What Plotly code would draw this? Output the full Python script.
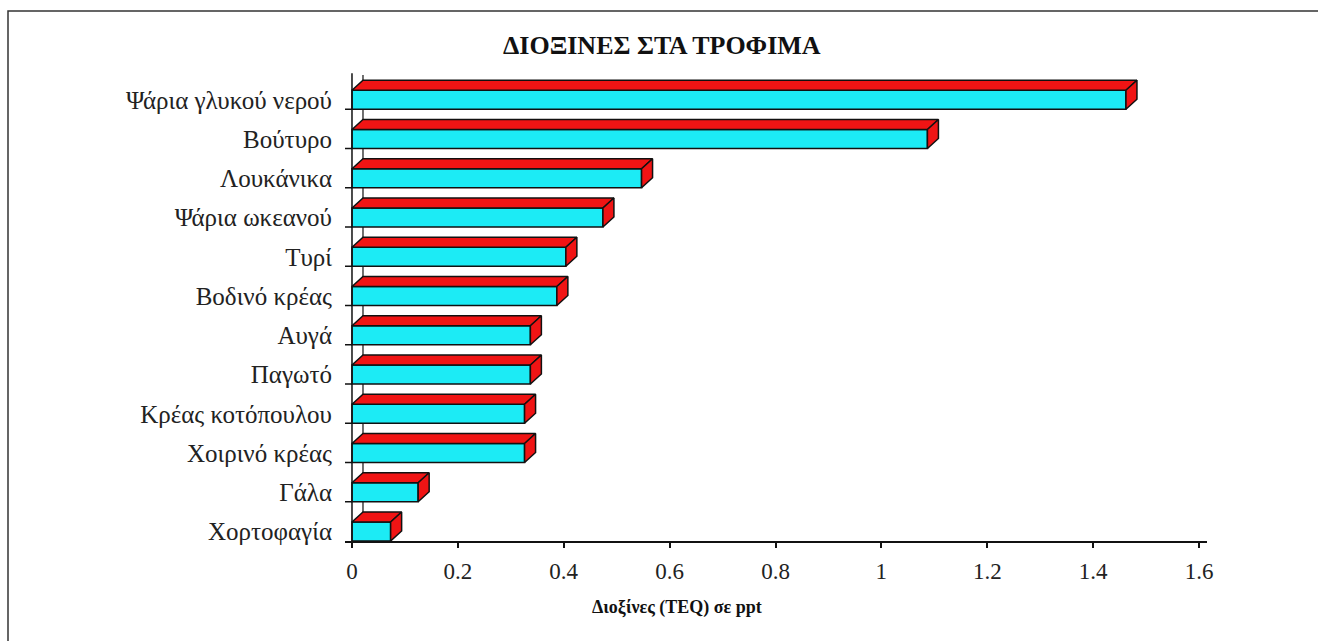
import plotly.graph_objects as go

# ---- data (bottom to top) ----
categories = ["Χορτοφαγία", "Γάλα", "Χοιρινό κρέας", "Κρέας κοτόπουλου", "Παγωτό",
              "Αυγά", "Βοδινό κρέας", "Τυρί", "Ψάρια ωκεανού", "Λουκάνικα",
              "Βούτυρο", "Ψάρια γλυκού νερού"]
values = [0.073, 0.125, 0.326, 0.326, 0.337, 0.337, 0.387, 0.404, 0.474, 0.547, 1.087, 1.462]
x_ticks = [0, 0.2, 0.4, 0.6, 0.8, 1.0, 1.2, 1.4, 1.6]
x_ticktext = ["0", "0.2", "0.4", "0.6", "0.8", "1", "1.2", "1.4", "1.6"]

title_text = "ΔΙΟΞΙΝΕΣ ΣΤΑ ΤΡΟΦΙΜΑ"
xaxis_title = "Διοξίνες (TEQ) σε ppt"

# ---- geometry/style ----
W, H = 1318, 641
ML, MR, MT, MB = 345, 111, 70, 100
PW, PH = W - ML - MR, H - MT - MB
XMIN, XMAX = -0.0132, 1.6151
px_per_x = PW / (XMAX - XMIN)
n = len(categories)
px_per_slot = PH / n
DX = 11 / px_per_x      # depth offset in x units
DY = 10 / px_per_slot   # depth offset in slot units
BH = 19 / px_per_slot   # front face height

FRONT = "#1CEBF5"
RED = "#F01414"
EDGE = "#111111"
FONT = "Liberation Serif, Times New Roman, DejaVu Serif, serif"

fig = go.Figure()

# front faces
fig.add_trace(go.Bar(
    x=values, y=[i + BH / 2 for i in range(n)], orientation="h", width=BH,
    marker=dict(color=FRONT, line=dict(color=EDGE, width=1.5)),
    hoverinfo="skip", showlegend=False))

# top faces and side faces
tx, ty, sx, sy = [], [], [], []
for i, v in enumerate(values):
    yt = i + BH
    tx += [0, DX, v + DX, v, 0, None]
    ty += [yt, yt + DY, yt + DY, yt, yt, None]
    sx += [v, v, v + DX, v + DX, v, None]
    sy += [i, yt, yt + DY, i + DY, i, None]

fig.add_trace(go.Scatter(x=tx, y=ty, mode="lines", fill="toself", fillcolor=RED,
                         line=dict(color=EDGE, width=1.5), hoverinfo="skip", showlegend=False))
fig.add_trace(go.Scatter(x=sx, y=sy, mode="lines", fill="toself", fillcolor=RED,
                         line=dict(color=EDGE, width=1.5), hoverinfo="skip", showlegend=False))

shapes = []
# back wall edge (below bars)
shapes.append(dict(type="line", xref="x", yref="y", x0=DX, x1=DX, y0=DY, y1=n - 0.13,
                   line=dict(color=EDGE, width=1.2), layer="below"))
# vertical axis line
shapes.append(dict(type="line", xref="x", yref="y", x0=0, x1=0, y0=0, y1=n - 0.08,
                   line=dict(color=EDGE, width=1.5)))
# category boundary ticks
for i in range(1, n):
    shapes.append(dict(type="line", xref="x", yref="y", x0=XMIN, x1=0, y0=i, y1=i,
                       line=dict(color=EDGE, width=1.5)))
# outer frame
shapes.append(dict(type="rect", xref="paper", yref="paper",
                   x0=(8 - ML) / PW, x1=(W + 5 - ML) / PW,
                   y0=(H - MB - (H + 5)) / PH, y1=(H - MB - 11) / PH,
                   line=dict(color="#333333", width=1.5)))

fig.update_layout(
    width=W, height=H,
    margin=dict(l=ML, r=MR, t=MT, b=MB),
    paper_bgcolor="white", plot_bgcolor="white",
    barmode="overlay",
    shapes=shapes,
    xaxis=dict(range=[XMIN, XMAX], tickvals=x_ticks, ticktext=x_ticktext,
               showgrid=False, zeroline=False, showline=True, linecolor=EDGE, linewidth=1.5,
               ticks="outside", ticklen=5, tickcolor=EDGE, tickwidth=1.5,
               ticklabelstandoff=4,
               tickfont=dict(family=FONT, size=23, color="#222222"), fixedrange=True),
    yaxis=dict(range=[0, n], tickvals=[i + BH / 2 for i in range(n)], ticktext=categories,
               showgrid=False, zeroline=False, showline=False, ticks="",
               ticklabelstandoff=12,
               tickfont=dict(family=FONT, size=25, color="#222222"), fixedrange=True),
    annotations=[
        dict(text="<b>" + title_text + "</b>", xref="paper", yref="paper",
             x=(662 - ML) / PW, y=(H - MB - 45) / PH, xanchor="center", yanchor="middle",
             showarrow=False, font=dict(family=FONT, size=26, color="#111111")),
        dict(text="<b>" + xaxis_title + "</b>", xref="paper", yref="paper",
             x=(677 - ML) / PW, y=(H - MB - 607) / PH, xanchor="center", yanchor="middle",
             showarrow=False, font=dict(family=FONT, size=18, color="#111111")),
    ],
)

fig.write_html("out.html", post_script="document.body.style.margin='0';",
               config={"displayModeBar": False})
